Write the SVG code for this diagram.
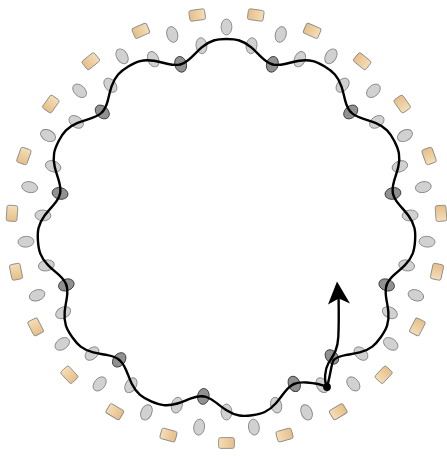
<svg xmlns="http://www.w3.org/2000/svg" width="447" height="456" viewBox="0 0 447 456">
<defs>
<linearGradient id="tan" x1="0" y1="0" x2="0" y2="1">
<stop offset="0" stop-color="#e6bf88"/><stop offset="1" stop-color="#f5deb8"/>
</linearGradient>
<path id="lobe" d="M163.696,-45.866 C164.740,-42.140 167.185,-38.788 170.377,-35.405 C173.569,-32.022 177.407,-28.573 180.585,-24.821 C183.764,-21.069 186.198,-17.025 187.497,-12.825 C188.796,-8.626 189,-4.303 189,0 C189,4.303 188.796,8.626 187.497,12.825 C186.198,17.025 183.764,21.069 180.585,24.821 C177.407,28.573 173.569,32.022 170.377,35.405 C167.185,38.788 164.740,42.140 163.696,45.866"/>
</defs>
<style>
.rc{fill:url(#tan);stroke:#8c8c8c;stroke-width:0.9}
.lg{fill:#d1d1d1;stroke:#888;stroke-width:0.9}
.dk{fill:#919191;stroke:#3c3c3c;stroke-width:0.9}
.wave{fill:none;stroke:#000;stroke-width:2.4;stroke-linecap:round;stroke-linejoin:round}
</style>
<rect width="447" height="456" fill="#fff"/>
<g id="outer-atoms" transform="translate(226.5 228)">
<rect class="rc" x="209.6" y="-7.9" width="10.8" height="15.8" rx="2" transform="rotate(90)"/>
<rect class="rc" x="209.6" y="-7.9" width="10.8" height="15.8" rx="2" transform="rotate(105.652)"/>
<rect class="rc" x="209.6" y="-7.9" width="10.8" height="15.8" rx="2" transform="rotate(121.304)"/>
<rect class="rc" x="209.6" y="-7.9" width="10.8" height="15.8" rx="2" transform="rotate(136.957)"/>
<rect class="rc" x="209.6" y="-7.9" width="10.8" height="15.8" rx="2" transform="rotate(152.609)"/>
<rect class="rc" x="209.6" y="-7.9" width="10.8" height="15.8" rx="2" transform="rotate(168.261)"/>
<rect class="rc" x="209.6" y="-7.9" width="10.8" height="15.8" rx="2" transform="rotate(183.913)"/>
<rect class="rc" x="209.6" y="-7.9" width="10.8" height="15.8" rx="2" transform="rotate(199.565)"/>
<rect class="rc" x="209.6" y="-7.9" width="10.8" height="15.8" rx="2" transform="rotate(215.217)"/>
<rect class="rc" x="209.6" y="-7.9" width="10.8" height="15.8" rx="2" transform="rotate(230.870)"/>
<rect class="rc" x="209.6" y="-7.9" width="10.8" height="15.8" rx="2" transform="rotate(246.522)"/>
<rect class="rc" x="209.6" y="-7.9" width="10.8" height="15.8" rx="2" transform="rotate(262.174)"/>
<rect class="rc" x="209.6" y="-7.9" width="10.8" height="15.8" rx="2" transform="rotate(277.826)"/>
<rect class="rc" x="209.6" y="-7.9" width="10.8" height="15.8" rx="2" transform="rotate(293.478)"/>
<rect class="rc" x="209.6" y="-7.9" width="10.8" height="15.8" rx="2" transform="rotate(309.130)"/>
<rect class="rc" x="209.6" y="-7.9" width="10.8" height="15.8" rx="2" transform="rotate(324.783)"/>
<rect class="rc" x="209.6" y="-7.9" width="10.8" height="15.8" rx="2" transform="rotate(340.435)"/>
<rect class="rc" x="209.6" y="-7.9" width="10.8" height="15.8" rx="2" transform="rotate(356.087)"/>
<rect class="rc" x="209.6" y="-7.9" width="10.8" height="15.8" rx="2" transform="rotate(11.739)"/>
<rect class="rc" x="209.6" y="-7.9" width="10.8" height="15.8" rx="2" transform="rotate(27.391)"/>
<rect class="rc" x="209.6" y="-7.9" width="10.8" height="15.8" rx="2" transform="rotate(43.043)"/>
<rect class="rc" x="209.6" y="-7.9" width="10.8" height="15.8" rx="2" transform="rotate(58.696)"/>
<rect class="rc" x="209.6" y="-7.9" width="10.8" height="15.8" rx="2" transform="rotate(74.348)"/>
</g>
<g id="outer-ring" transform="translate(226.5 228)">
<ellipse class="lg" cx="201" cy="0" rx="8" ry="5.4" transform="rotate(270)"/>
<ellipse class="lg" cx="201" cy="0" rx="8" ry="5.4" transform="rotate(285.652)"/>
<ellipse class="lg" cx="201" cy="0" rx="8" ry="5.4" transform="rotate(301.304)"/>
<ellipse class="lg" cx="201" cy="0" rx="8" ry="5.4" transform="rotate(316.957)"/>
<ellipse class="lg" cx="201" cy="0" rx="8" ry="5.4" transform="rotate(332.609)"/>
<ellipse class="lg" cx="201" cy="0" rx="8" ry="5.4" transform="rotate(348.261)"/>
<ellipse class="lg" cx="201" cy="0" rx="8" ry="5.4" transform="rotate(3.913)"/>
<ellipse class="lg" cx="201" cy="0" rx="8" ry="5.4" transform="rotate(19.565)"/>
<ellipse class="lg" cx="201" cy="0" rx="8" ry="5.4" transform="rotate(35.217)"/>
<ellipse class="lg" cx="201" cy="0" rx="8" ry="5.4" transform="rotate(50.870)"/>
<ellipse class="lg" cx="201" cy="0" rx="8" ry="5.4" transform="rotate(66.522)"/>
<ellipse class="lg" cx="201" cy="0" rx="8" ry="5.4" transform="rotate(82.174)"/>
<ellipse class="lg" cx="201" cy="0" rx="8" ry="5.4" transform="rotate(97.826)"/>
<ellipse class="lg" cx="201" cy="0" rx="8" ry="5.4" transform="rotate(113.478)"/>
<ellipse class="lg" cx="201" cy="0" rx="8" ry="5.4" transform="rotate(129.130)"/>
<ellipse class="lg" cx="201" cy="0" rx="8" ry="5.4" transform="rotate(144.783)"/>
<ellipse class="lg" cx="201" cy="0" rx="8" ry="5.4" transform="rotate(160.435)"/>
<ellipse class="lg" cx="201" cy="0" rx="8" ry="5.4" transform="rotate(176.087)"/>
<ellipse class="lg" cx="201" cy="0" rx="8" ry="5.4" transform="rotate(191.739)"/>
<ellipse class="lg" cx="201" cy="0" rx="8" ry="5.4" transform="rotate(207.391)"/>
<ellipse class="lg" cx="201" cy="0" rx="8" ry="5.4" transform="rotate(223.043)"/>
<ellipse class="lg" cx="201" cy="0" rx="8" ry="5.4" transform="rotate(238.696)"/>
<ellipse class="lg" cx="201" cy="0" rx="8" ry="5.4" transform="rotate(254.348)"/>
</g>
<g id="inner-ring" transform="translate(226.5 228)">
<ellipse class="lg" cx="184" cy="0" rx="8" ry="5.4" transform="rotate(90)"/>
<ellipse class="lg" cx="184" cy="0" rx="8" ry="5.4" transform="rotate(105.652)"/>
<ellipse class="lg" cx="184" cy="0" rx="8" ry="5.4" transform="rotate(121.304)"/>
<ellipse class="lg" cx="184" cy="0" rx="8" ry="5.4" transform="rotate(136.957)"/>
<ellipse class="lg" cx="184" cy="0" rx="8" ry="5.4" transform="rotate(152.609)"/>
<ellipse class="lg" cx="184" cy="0" rx="8" ry="5.4" transform="rotate(168.261)"/>
<ellipse class="lg" cx="184" cy="0" rx="8" ry="5.4" transform="rotate(183.913)"/>
<ellipse class="lg" cx="184" cy="0" rx="8" ry="5.4" transform="rotate(199.565)"/>
<ellipse class="lg" cx="184" cy="0" rx="8" ry="5.4" transform="rotate(215.217)"/>
<ellipse class="lg" cx="184" cy="0" rx="8" ry="5.4" transform="rotate(230.870)"/>
<ellipse class="lg" cx="184" cy="0" rx="8" ry="5.4" transform="rotate(246.522)"/>
<ellipse class="lg" cx="184" cy="0" rx="8" ry="5.4" transform="rotate(262.174)"/>
<ellipse class="lg" cx="184" cy="0" rx="8" ry="5.4" transform="rotate(277.826)"/>
<ellipse class="lg" cx="184" cy="0" rx="8" ry="5.4" transform="rotate(293.478)"/>
<ellipse class="lg" cx="184" cy="0" rx="8" ry="5.4" transform="rotate(309.130)"/>
<ellipse class="lg" cx="184" cy="0" rx="8" ry="5.4" transform="rotate(324.783)"/>
<ellipse class="lg" cx="184" cy="0" rx="8" ry="5.4" transform="rotate(340.435)"/>
<ellipse class="lg" cx="184" cy="0" rx="8" ry="5.4" transform="rotate(356.087)"/>
<ellipse class="lg" cx="184" cy="0" rx="8" ry="5.4" transform="rotate(11.739)"/>
<ellipse class="lg" cx="184" cy="0" rx="8" ry="5.4" transform="rotate(27.391)"/>
<ellipse class="lg" cx="184" cy="0" rx="8" ry="5.4" transform="rotate(43.043)"/>
<ellipse class="lg" cx="184" cy="0" rx="8" ry="5.4" transform="rotate(58.696)"/>
<ellipse class="lg" cx="184" cy="0" rx="8" ry="5.4" transform="rotate(74.348)"/>
</g>
<g id="dark-sites" transform="translate(226.5 228)">
<ellipse class="dk" cx="170" cy="0" rx="8" ry="5.8" transform="rotate(285.652)"/>
<ellipse class="dk" cx="170" cy="0" rx="8" ry="5.8" transform="rotate(316.957)"/>
<ellipse class="dk" cx="170" cy="0" rx="8" ry="5.8" transform="rotate(348.261)"/>
<ellipse class="dk" cx="170" cy="0" rx="8" ry="5.8" transform="rotate(19.565)"/>
<ellipse class="dk" cx="166.5" cy="0" rx="8" ry="5.8" transform="rotate(50.74)"/>
<ellipse class="dk" cx="170" cy="0" rx="8" ry="5.8" transform="rotate(66.522)"/>
<ellipse class="dk" cx="170" cy="0" rx="8" ry="5.8" transform="rotate(97.826)"/>
<ellipse class="dk" cx="170" cy="0" rx="8" ry="5.8" transform="rotate(129.130)"/>
<ellipse class="dk" cx="170" cy="0" rx="8" ry="5.8" transform="rotate(160.435)"/>
<ellipse class="dk" cx="170" cy="0" rx="8" ry="5.8" transform="rotate(191.739)"/>
<ellipse class="dk" cx="170" cy="0" rx="8" ry="5.8" transform="rotate(223.043)"/>
<ellipse class="dk" cx="170" cy="0" rx="8" ry="5.8" transform="rotate(254.348)"/>
</g>
<g id="connectors">
<g class="wave" transform="translate(226.5 228)">
<use href="#lobe" transform="rotate(82.174)"/>
<use href="#lobe" transform="rotate(113.478)"/>
<use href="#lobe" transform="rotate(144.783)"/>
<use href="#lobe" transform="rotate(176.087)"/>
<use href="#lobe" transform="rotate(207.391)"/>
<use href="#lobe" transform="rotate(238.696)"/>
<use href="#lobe" transform="rotate(270)"/>
<use href="#lobe" transform="rotate(301.304)"/>
<use href="#lobe" transform="rotate(332.609)"/>
<use href="#lobe" transform="rotate(3.913)"/>
<use href="#lobe" transform="rotate(35.217)"/>
</g>
<path class="wave" d="M327,387 C320.5,384 311.2,382.85 306.56,382.51 C301.92,382.17 297.78,382.38 294.23,383.93"/>
<path class="wave" d="M333.78,359.87 C331.6,361.6 330.3,376 327,387"/>
<path class="wave" d="M327,387 C324,381 324.5,370 328.5,363 C332,357 337.5,352 338.3,337 C339,322 338.8,310 338.6,299"/>
<polygon points="337,281.5 350,303.5 338.8,298.5 328,304.5" fill="#000"/>
<circle cx="327" cy="387" r="3.9" fill="#000"/>
</g>
</svg>
